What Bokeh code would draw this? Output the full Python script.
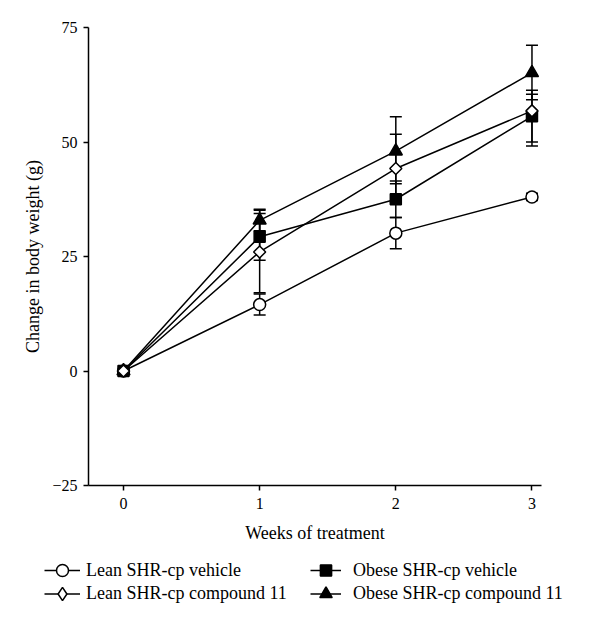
import math
from bokeh.plotting import figure
from bokeh.models import Range1d, Legend, LegendItem, FixedTicker
from bokeh.embed import file_html
from bokeh.resources import INLINE

weeks = [0, 1, 2, 3]
x_ticks = [0, 1, 2, 3]
y_ticks = [-25, 0, 25, 50, 75]

lean_vehicle = [0, 14.5, 30.1, 38.0]
lean_vehicle_lo = [0, 12.2, 26.7, 37.2]
lean_vehicle_hi = [0, 16.8, 33.5, 38.8]

lean_compound = [0, 26.0, 44.2, 56.8]
lean_compound_lo = [0, 17.1, 36.8, 49.1]
lean_compound_hi = [0, 35.1, 51.7, 60.4]

obese_vehicle = [0, 29.3, 37.5, 55.6]
obese_vehicle_lo = [0, 24.2, 33.5, 50.0]
obese_vehicle_hi = [0, 34.4, 41.5, 61.3]

obese_compound = [0, 32.9, 48.0, 65.1]
obese_compound_lo = [0, 30.6, 40.9, 59.2]
obese_compound_hi = [0, 35.3, 55.5, 71.1]

FONT = "Liberation Serif"

p = figure(width=600, height=545, output_backend="svg", toolbar_location=None,
           x_range=Range1d(-0.257, 3.07), y_range=Range1d(-25, 75),
           min_border_left=88, min_border_right=59, min_border_top=27, min_border_bottom=60)
p.outline_line_color = None
p.xgrid.visible = False
p.ygrid.visible = False
p.background_fill_color = "white"
p.border_fill_color = "white"

for ax in (p.xaxis[0], p.yaxis[0]):
    ax.axis_line_width = 1.5
    ax.axis_line_color = "black"
    ax.major_tick_line_width = 1.5
    ax.major_tick_line_color = "black"
    ax.major_tick_in = 0
    ax.major_tick_out = 5
    ax.minor_tick_line_color = None
    ax.major_label_text_font = FONT
    ax.major_label_text_font_size = "16px"
    ax.major_label_text_color = "black"
    ax.axis_label_text_font = FONT
    ax.axis_label_text_font_size = "18px"
    ax.axis_label_text_font_style = "normal"
    ax.axis_label_text_color = "black"

p.xaxis.ticker = FixedTicker(ticks=x_ticks)
p.yaxis.ticker = FixedTicker(ticks=y_ticks)
p.yaxis.major_label_overrides = {t: (("\u2212" + str(-t)) if t < 0 else str(t)) for t in y_ticks}
p.yaxis.major_label_standoff = 6
p.xaxis.major_label_standoff = 7
p.xaxis.axis_label = "Weeks of treatment"
p.xaxis.axis_label_standoff = 11
p.yaxis.axis_label = "Change in body weight (g)"
p.yaxis.axis_label_standoff = 6

names = ["Lean SHR-cp vehicle", "Lean SHR-cp compound 11",
         "Obese SHR-cp vehicle", "Obese SHR-cp compound 11"]
styles = {
    "Lean SHR-cp vehicle": dict(marker="circle", size=12, fill_color="white", angle=0),
    "Lean SHR-cp compound 11": dict(marker="square", size=8.5, fill_color="white", angle=math.pi / 4),
    "Obese SHR-cp vehicle": dict(marker="square", size=11, fill_color="black", angle=0),
    "Obese SHR-cp compound 11": dict(marker="triangle", size=13, fill_color="black", angle=0),
}
legend_markers = {
    "Lean SHR-cp vehicle": "circle",
    "Lean SHR-cp compound 11": "diamond",
    "Obese SHR-cp vehicle": "square",
    "Obese SHR-cp compound 11": "triangle",
}
data = {
    "Lean SHR-cp vehicle": (lean_vehicle, lean_vehicle_lo, lean_vehicle_hi),
    "Lean SHR-cp compound 11": (lean_compound, lean_compound_lo, lean_compound_hi),
    "Obese SHR-cp vehicle": (obese_vehicle, obese_vehicle_lo, obese_vehicle_hi),
    "Obese SHR-cp compound 11": (obese_compound, obese_compound_lo, obese_compound_hi),
}
draw_order = ["Lean SHR-cp vehicle", "Obese SHR-cp compound 11",
              "Obese SHR-cp vehicle", "Lean SHR-cp compound 11"]

for n in draw_order:
    p.line(weeks, data[n][0], line_color="black", line_width=1.5)

for n in draw_order:
    y, lo, hi = data[n]
    p.segment(x0=weeks, y0=lo, x1=weeks, y1=hi, line_color="black", line_width=1.5)
    p.scatter(weeks, lo, marker="dash", size=12, line_color="black", line_width=1.5)
    p.scatter(weeks, hi, marker="dash", size=12, line_color="black", line_width=1.5)

for n in draw_order:
    st = styles[n]
    p.scatter(weeks, data[n][0], marker=st["marker"], size=st["size"], angle=st["angle"],
              fill_color=st["fill_color"], line_color="black", line_width=1.5)

# separate legend canvas below the chart (its ranges keep the series themselves out of view)
q = figure(width=600, height=79, output_backend="svg", toolbar_location=None,
           x_range=Range1d(100, 101), y_range=Range1d(100, 101),
           min_border_left=0, min_border_right=0, min_border_top=0, min_border_bottom=0,
           x_axis_type=None, y_axis_type=None)
q.outline_line_color = None
q.xgrid.visible = False
q.ygrid.visible = False
q.background_fill_color = "white"
q.border_fill_color = "white"

items = {}
for n in names:
    st = styles[n]
    r1 = q.line(weeks, data[n][0], line_color="black", line_width=1.5)
    r2 = q.scatter(weeks, data[n][0], marker=legend_markers[n],
                   fill_color=st["fill_color"], line_color="black", line_width=1.5)
    items[n] = LegendItem(label=n, renderers=[r1, r2])

def add_legend(name, x, y_center, gw, gh, standoff):
    lg = Legend(items=[items[name]], location=(x, y_center - gh / 2), orientation="vertical",
                margin=0, padding=0, spacing=0, glyph_width=gw, glyph_height=gh,
                label_height=20, label_standoff=standoff, border_line_color=None,
                background_fill_alpha=0, label_text_font=FONT,
                label_text_font_size="18px", label_text_color="black")
    q.add_layout(lg, "center")

add_legend("Lean SHR-cp vehicle", 44, 54, 36, 30, 6)
add_legend("Lean SHR-cp compound 11", 44, 31, 36, 33, 6)
add_legend("Obese SHR-cp vehicle", 310, 54, 31, 28, 12)
add_legend("Obese SHR-cp compound 11", 310, 31, 31, 31, 12)

open("out.html", "w").write(file_html([p, q], INLINE))
